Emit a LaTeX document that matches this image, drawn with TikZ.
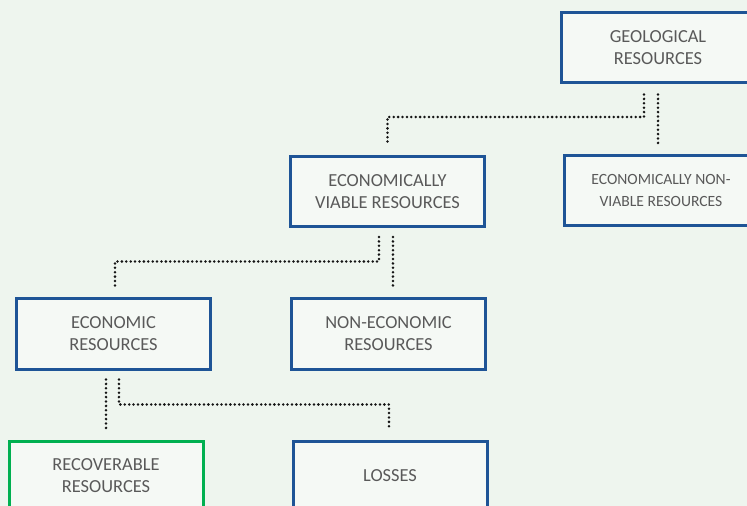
\documentclass[tikz,border=0pt]{standalone}
\usepackage{fontspec}
\setmainfont{Carlito}
\usepackage{xcolor}
\usetikzlibrary{calc}

\definecolor{bgpage}{RGB}{238,245,238}
\definecolor{boxblue}{RGB}{30,84,150}
\definecolor{boxgreen}{RGB}{0,176,80}
\definecolor{txtgray}{RGB}{89,89,89}
\definecolor{dotcol}{RGB}{20,20,20}

\begin{document}
\begin{tikzpicture}[x=0.75pt,y=-0.75pt,
  resbox/.style={draw=boxblue,line width=2.25pt,fill=bgpage!60!white,
    minimum width=145.5pt,minimum height=52.5pt,inner sep=0pt,
    align=center,text=txtgray,font=\fontsize{13.8}{16.5}\selectfont},
  smallbox/.style={resbox,font=\fontsize{11.7}{15.8}\selectfont},
  goodbox/.style={resbox,draw=boxgreen},
  link/.style={draw=dotcol,line width=2.1pt,line cap=round,
    dash pattern=on 0pt off 3.3pt}]
\fill[bgpage] (0,0) rectangle (747,506);
\useasboundingbox (0,0) rectangle (747,506);

\node[resbox] (geo) at (658,48) {GEOLOGICAL\\RESOURCES};
\node[resbox] (viable) at (387.5,191.5) {ECONOMICALLY\\VIABLE RESOURCES};
\node[smallbox] (nonviable) at (661,190.5) {ECONOMICALLY NON-\\VIABLE RESOURCES};
\node[resbox] (econ) at (113.5,334) {ECONOMIC\\RESOURCES};
\node[resbox] (noneco) at (388.5,334) {NON-ECONOMIC\\RESOURCES};
\node[goodbox] (recov) at (106,476) {RECOVERABLE\\RESOURCES};
\node[resbox] (losses) at (390,476) {LOSSES};

% dotted links between levels
\draw[link,shorten <=7.5pt,shorten >=8.25pt] ([xshift=-10.5pt]geo.south)
  |- ($(viable.north)+(0,-38)$) -- (viable.north);
\draw[link,shorten <=7.5pt,shorten >=7.5pt] (geo.south) -- (geo.south |- nonviable.north);

\draw[link,shorten <=6.75pt,shorten >=6.75pt] ([xshift=-6.4pt]viable.south)
  |- ($(econ.north)+(1.5,-36)$) -- ($(econ.north)+(1.5,0)$);
\draw[link,shorten <=6.75pt,shorten >=6.75pt] ([xshift=4.1pt]viable.south)
  -- ([xshift=4.1pt]viable.south |- noneco.north);

\draw[link,shorten <=6.75pt,shorten >=7.5pt] ([xshift=-5.6pt]econ.south) -- (recov.north);
\draw[link,shorten <=6.75pt,shorten >=7.5pt] ([xshift=4.1pt]econ.south)
  |- ($(losses.north)+(-1,-35)$) -- ($(losses.north)+(-1,0)$);
\end{tikzpicture}
\end{document}
